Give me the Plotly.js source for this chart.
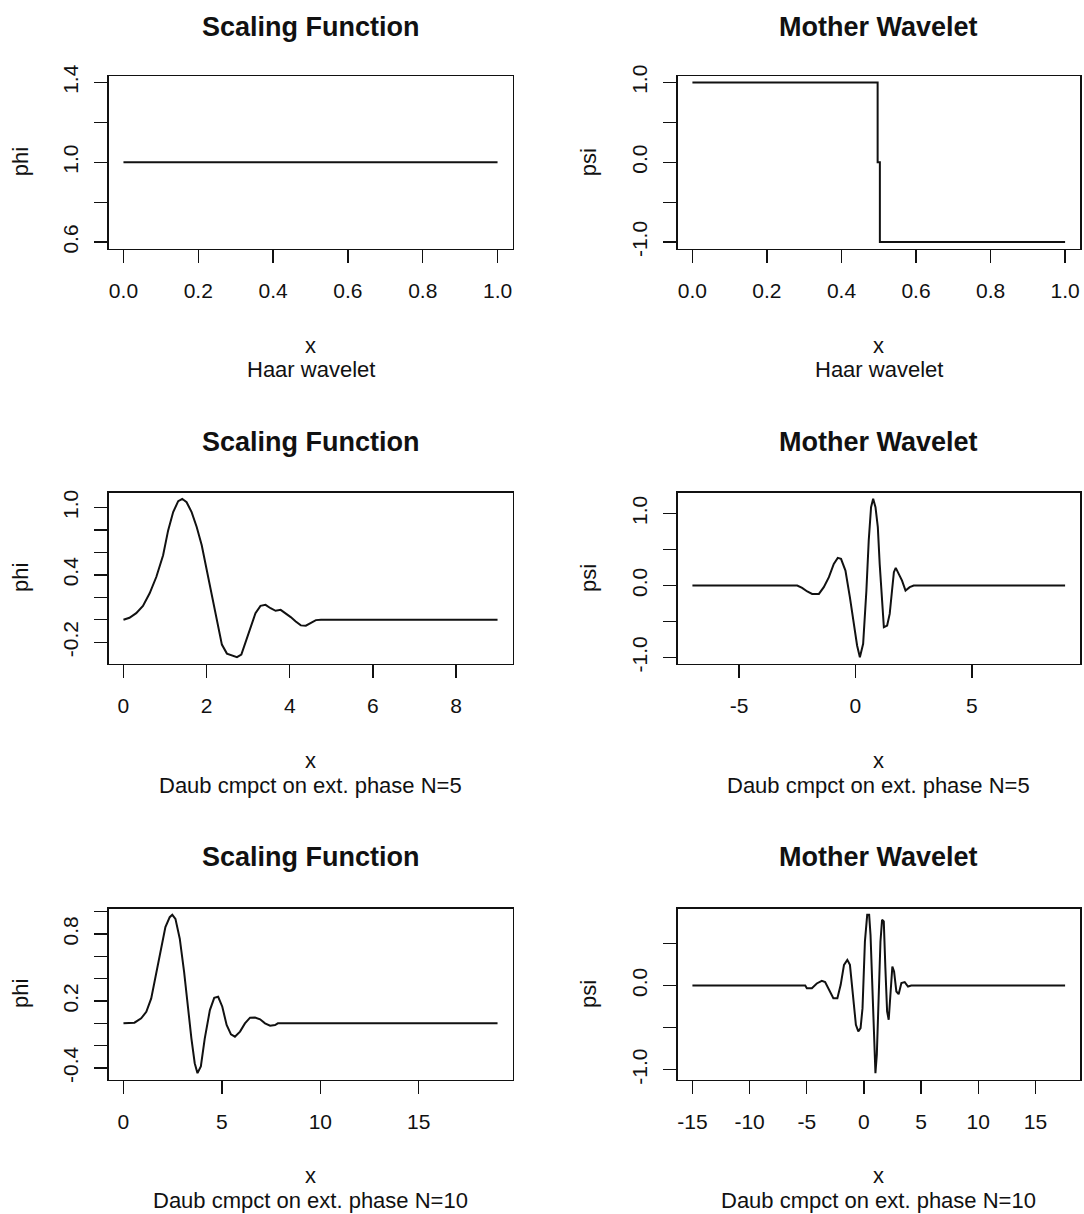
<!DOCTYPE html>
<html>
<head>
<meta charset="utf-8">
<script src="https://cdn.plot.ly/plotly-3.0.1.min.js"></script>
<style>html,body{margin:0;padding:0;background:#fff;}#chart{width:1084px;height:1214px;}</style>
</head>
<body>
<div id="chart"></div>
<script>
// ---------------- data ----------------
const panelTitles = ['Scaling Function', 'Mother Wavelet', 'Scaling Function', 'Mother Wavelet', 'Scaling Function', 'Mother Wavelet'];
const panelSubs = ['Haar wavelet', 'Haar wavelet', 'Daub cmpct on ext. phase N=5', 'Daub cmpct on ext. phase N=5', 'Daub cmpct on ext. phase N=10', 'Daub cmpct on ext. phase N=10'];
const yLabels = ['phi', 'psi', 'phi', 'psi', 'phi', 'psi'];
const xLabel = 'x';

// Haar
const haarPhiX = [0, 1];
const haarPhi = [1, 1];
const haarPsiX = [0, 0.497, 0.497, 0.503, 0.503, 1];
const haarPsi = [1, 1, 0, 0, -1, -1];

// Daubechies extremal phase N=5
const d5PhiX = [0, 0.145, 0.307, 0.469, 0.630, 0.792, 0.954, 1.075, 1.196, 1.317, 1.414, 1.519, 1.640, 1.762, 1.883, 2.004, 2.125, 2.246, 2.368, 2.489, 2.610, 2.731, 2.836, 2.933, 3.055, 3.176, 3.297, 3.418, 3.539, 3.661, 3.782, 3.903, 4.024, 4.145, 4.267, 4.388, 4.509, 4.630, 4.752, 9.0];
const d5Phi = [0, 0.018, 0.059, 0.124, 0.236, 0.383, 0.575, 0.796, 0.959, 1.056, 1.077, 1.047, 0.959, 0.826, 0.664, 0.442, 0.206, -0.029, -0.221, -0.301, -0.319, -0.333, -0.310, -0.206, -0.059, 0.059, 0.124, 0.133, 0.103, 0.080, 0.088, 0.059, 0.024, -0.015, -0.050, -0.053, -0.029, -0.003, 0, 0];
const d5PsiX = [-7, -2.50, -2.29, -2.07, -1.86, -1.57, -1.36, -1.14, -0.93, -0.76, -0.62, -0.43, -0.24, -0.07, 0.07, 0.19, 0.33, 0.47, 0.57, 0.67, 0.76, 0.86, 0.96, 1.04, 1.14, 1.22, 1.36, 1.47, 1.57, 1.65, 1.73, 1.86, 2.00, 2.15, 2.33, 2.50, 9];
const d5Psi = [0, 0, -0.032, -0.083, -0.116, -0.116, -0.023, 0.116, 0.301, 0.384, 0.370, 0.208, -0.162, -0.532, -0.833, -0.995, -0.810, -0.069, 0.625, 1.088, 1.204, 1.088, 0.810, 0.301, -0.255, -0.579, -0.556, -0.394, -0.069, 0.185, 0.245, 0.162, 0.069, -0.069, -0.023, 0, 0];

// Daubechies extremal phase N=10
const d10PhiX = [0, 0.56, 0.90, 1.16, 1.41, 1.67, 1.92, 2.13, 2.35, 2.48, 2.64, 2.86, 3.08, 3.28, 3.45, 3.62, 3.76, 3.93, 4.13, 4.39, 4.61, 4.81, 5.02, 5.24, 5.46, 5.66, 5.92, 6.17, 6.43, 6.68, 6.94, 7.19, 7.45, 7.70, 7.84, 19];
const d10Phi = [0, 0.006, 0.045, 0.104, 0.223, 0.461, 0.698, 0.862, 0.951, 0.972, 0.936, 0.758, 0.461, 0.134, -0.134, -0.357, -0.446, -0.386, -0.134, 0.119, 0.229, 0.238, 0.149, -0.015, -0.098, -0.119, -0.074, 0, 0.051, 0.053, 0.036, 0, -0.021, -0.015, 0, 0];
const d10PsiX = [-15, -5.13, -4.99, -4.55, -4.12, -3.68, -3.39, -3.10, -2.67, -2.32, -2.03, -1.74, -1.45, -1.22, -0.93, -0.70, -0.49, -0.29, -0.12, 0.09, 0.29, 0.46, 0.58, 0.75, 0.87, 1.01, 1.13, 1.30, 1.45, 1.59, 1.74, 1.88, 2.03, 2.17, 2.32, 2.49, 2.64, 2.84, 3.04, 3.28, 3.57, 3.86, 4.14, 17.6];
const d10Psi = [0, 0, -0.032, -0.032, 0.024, 0.055, 0.040, -0.032, -0.150, -0.150, 0.008, 0.245, 0.304, 0.245, -0.111, -0.466, -0.545, -0.506, -0.269, 0.522, 0.838, 0.838, 0.601, -0.111, -0.704, -1.040, -0.822, -0.032, 0.522, 0.779, 0.759, 0.206, -0.308, -0.407, -0.111, 0.225, 0.166, -0.071, -0.103, 0.028, 0.040, -0.012, 0, 0];

// tick values and tick labels
const xTicksHaar = [0, 0.2, 0.4, 0.6, 0.8, 1.0];
const xLabelsHaar = ['0.0', '0.2', '0.4', '0.6', '0.8', '1.0'];
const yTicksHaarPhi = [0.6, 0.8, 1.0, 1.2, 1.4];
const yLabelsHaarPhi = ['0.6', '', '1.0', '', '1.4'];
const yTicksHaarPsi = [-1, -0.5, 0, 0.5, 1];
const yLabelsHaarPsi = ['-1.0', '', '0.0', '', '1.0'];
const xTicksD5Phi = [0, 2, 4, 6, 8];
const xLabelsD5Phi = ['0', '2', '4', '6', '8'];
const yTicksD5Phi = [-0.2, 0, 0.2, 0.4, 0.6, 0.8, 1.0];
const yLabelsD5Phi = ['-0.2', '', '', '0.4', '', '', '1.0'];
const xTicksD5Psi = [-5, 0, 5];
const xLabelsD5Psi = ['-5', '0', '5'];
const yTicksD5Psi = [-1, -0.5, 0, 0.5, 1];
const yLabelsD5Psi = ['-1.0', '', '0.0', '', '1.0'];
const xTicksD10Phi = [0, 5, 10, 15];
const xLabelsD10Phi = ['0', '5', '10', '15'];
const yTicksD10Phi = [-0.4, -0.2, 0, 0.2, 0.4, 0.6, 0.8, 1.0];
const yLabelsD10Phi = ['-0.4', '', '', '0.2', '', '', '0.8', ''];
const xTicksD10Psi = [-15, -10, -5, 0, 5, 10, 15];
const xLabelsD10Psi = ['-15', '-10', '-5', '0', '5', '10', '15'];
const yTicksD10Psi = [-1, -0.5, 0, 0.5];
const yLabelsD10Psi = ['-1.0', '', '0.0', ''];

// ---------------- build ----------------
const W = 1084, H = 1214;
const panels = [
  {x: haarPhiX, y: haarPhi, xt: xTicksHaar, xl: xLabelsHaar, yt: yTicksHaarPhi, yl: yLabelsHaarPhi},
  {x: haarPsiX, y: haarPsi, xt: xTicksHaar, xl: xLabelsHaar, yt: yTicksHaarPsi, yl: yLabelsHaarPsi},
  {x: d5PhiX, y: d5Phi, xt: xTicksD5Phi, xl: xLabelsD5Phi, yt: yTicksD5Phi, yl: yLabelsD5Phi},
  {x: d5PsiX, y: d5Psi, xt: xTicksD5Psi, xl: xLabelsD5Psi, yt: yTicksD5Psi, yl: yLabelsD5Psi},
  {x: d10PhiX, y: d10Phi, xt: xTicksD10Phi, xl: xLabelsD10Phi, yt: yTicksD10Phi, yl: yLabelsD10Phi},
  {x: d10PsiX, y: d10Psi, xt: xTicksD10Psi, xl: xLabelsD10Psi, yt: yTicksD10Psi, yl: yLabelsD10Psi}
];

// plot box pixel positions
const colPx = [[108.5, 512.5], [677.5, 1080]];
const rowPx = [[76, 248.5], [492.5, 663.5], [908.5, 1079.5]];

function rRange(v) {
  let lo = Math.min(...v), hi = Math.max(...v);
  if (lo === hi) { const d = 0.4 * Math.abs(lo || 1); lo -= d; hi += d; }
  const e = 0.04 * (hi - lo);
  return [lo - e, hi + e];
}

const FONT = 'Liberation Sans, Arial, sans-serif';
const INK = '#111111';
const data = [];
const layout = {
  width: W, height: H,
  margin: {l: 0, r: 0, t: 0, b: 0},
  paper_bgcolor: '#ffffff', plot_bgcolor: '#ffffff',
  showlegend: false,
  font: {family: FONT, color: INK, size: 21},
  annotations: []
};

panels.forEach((p, i) => {
  const r = Math.floor(i / 2), c = i % 2;
  const n = i + 1;
  const xa = 'xaxis' + (n === 1 ? '' : n), ya = 'yaxis' + (n === 1 ? '' : n);
  const xr = 'x' + (n === 1 ? '' : n), yr = 'y' + (n === 1 ? '' : n);
  data.push({x: p.x, y: p.y, type: 'scatter', mode: 'lines', xaxis: xr, yaxis: yr,
    line: {color: INK, width: 2}, hoverinfo: 'skip'});
  const [x0, x1] = colPx[c], [y0, y1] = rowPx[r];
  layout[xa] = {
    domain: [x0 / W, x1 / W], anchor: yr, range: rRange(p.x),
    showgrid: false, zeroline: false, showline: true, mirror: true,
    linecolor: INK, linewidth: 1.5,
    ticks: 'outside', ticklen: 13, tickwidth: 1.3, tickcolor: INK,
    tickmode: 'array', tickvals: p.xt, ticktext: p.xl,
    tickfont: {family: FONT, size: 21, color: INK}, ticklabelstandoff: 10
  };
  layout[ya] = {
    domain: [1 - y1 / H, 1 - y0 / H], anchor: xr, range: rRange(p.y),
    showgrid: false, zeroline: false, showline: true, mirror: true,
    linecolor: INK, linewidth: 1.5,
    ticks: 'outside', ticklen: 13, tickwidth: 1.3, tickcolor: INK,
    tickmode: 'array', tickvals: p.yt, ticktext: p.yl, tickangle: -90,
    tickfont: {family: FONT, size: 21, color: INK}, ticklabelstandoff: 8
  };
  const cx = (x0 + x1) / 2;
  const titleY = [27, 442, 857][r];
  const labY = [345, 760, 1175][r];
  const subY = [369, 785, 1200][r];
  const ylabX = [20, 588][c];
  layout.annotations.push(
    {text: '<b>' + panelTitles[i] + '</b>', xref: 'paper', yref: 'paper', x: cx / W, y: 1 - titleY / H,
     xanchor: 'center', yanchor: 'middle', showarrow: false, font: {family: FONT, size: 27, color: INK}},
    {text: xLabel, xref: 'paper', yref: 'paper', x: cx / W, y: 1 - labY / H,
     xanchor: 'center', yanchor: 'middle', showarrow: false, font: {family: FONT, size: 22, color: INK}},
    {text: panelSubs[i], xref: 'paper', yref: 'paper', x: cx / W, y: 1 - subY / H,
     xanchor: 'center', yanchor: 'middle', showarrow: false, font: {family: FONT, size: 22, color: INK}},
    {text: yLabels[i], xref: 'paper', yref: 'paper', x: ylabX / W, y: 1 - ((y0 + y1) / 2) / H,
     xanchor: 'center', yanchor: 'middle', textangle: -90, showarrow: false, font: {family: FONT, size: 22, color: INK}}
  );
});

Plotly.newPlot('chart', data, layout, {staticPlot: true, displayModeBar: false});
</script>
</body>
</html>
